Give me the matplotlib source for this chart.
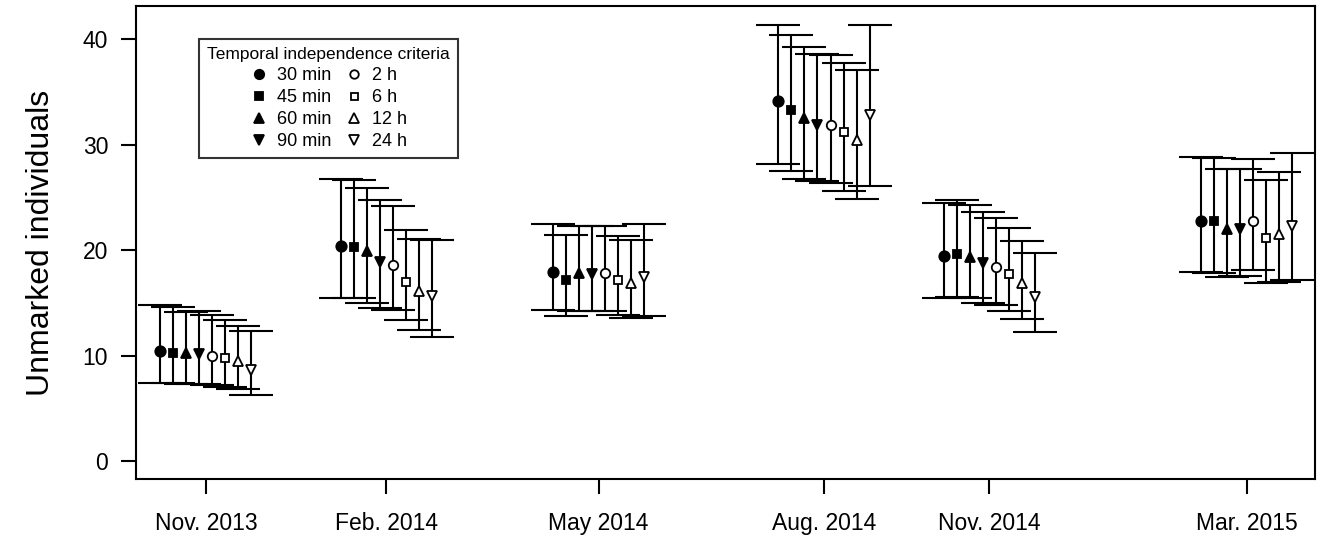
import numpy as np
import pandas as pd
import matplotlib
matplotlib.use("Agg")
import matplotlib.pyplot as plt
from matplotlib.lines import Line2D

plt.rcParams['font.family'] = ['Liberation Sans', 'DejaVu Sans']

# Sampling sessions and independence criteria
sessions = ["Nov. 2013", "Feb. 2014", "May 2014", "Aug. 2014", "Nov. 2014", "Mar. 2015"]
session_dates = ["2013-11-15", "2014-02-07", "2014-05-17", "2014-08-30", "2014-11-15", "2015-03-15"]
criteria = ["30 min", "45 min", "60 min", "90 min", "2 h", "6 h", "12 h", "24 h"]

# Estimated unmarked individuals (rows = sessions, columns = criteria)
estimates = [
    [10.5, 10.3, 10.3, 10.2, 10.0, 9.8, 9.5, 8.7],
    [20.4, 20.35, 19.9, 18.9, 18.6, 17.0, 16.2, 15.7],
    [18.0, 17.2, 17.9, 17.8, 17.9, 17.2, 16.9, 17.5],
    [34.2, 33.3, 32.5, 31.9, 31.9, 31.2, 30.5, 32.8],
    [19.5, 19.7, 19.35, 18.8, 18.45, 17.75, 16.9, 15.55],
    [22.8, 22.8, 22.0, 22.0, 22.8, 21.2, 21.6, 22.3],
]
lower = [
    [7.44, 7.4, 7.3, 7.35, 7.2, 7.1, 6.9, 6.3],
    [15.5, 15.45, 15.0, 14.5, 14.35, 13.4, 12.5, 11.75],
    [14.4, 13.8, 14.3, 14.3, 14.3, 13.9, 13.55, 13.8],
    [28.2, 27.5, 26.8, 26.6, 26.4, 25.6, 24.85, 26.15],
    [15.45, 15.6, 15.45, 15.0, 14.8, 14.3, 13.5, 12.3],
    [18.0, 17.9, 17.45, 17.55, 18.1, 16.9, 17.0, 17.2],
]
upper = [
    [14.8, 14.6, 14.2, 14.3, 13.9, 13.4, 12.85, 12.35],
    [26.8, 26.7, 25.9, 24.8, 24.2, 21.9, 21.05, 21.0],
    [22.5, 21.5, 22.3, 22.3, 22.3, 21.4, 21.0, 22.5],
    [41.4, 40.4, 39.3, 38.6, 38.5, 37.8, 37.1, 41.4],
    [24.5, 24.8, 24.3, 23.6, 23.1, 22.1, 20.9, 19.8],
    [28.85, 28.75, 27.7, 27.7, 28.7, 26.7, 27.4, 29.2],
]

# marker style per criterion: (marker, size, filled)
styles = [("o", 7.5, True), ("s", 6.0, True), ("^", 7.8, True), ("v", 7.8, True),
          ("o", 6.8, False), ("s", 5.6, False), ("^", 7.8, False), ("v", 7.8, False)]

est = np.array(estimates)
lo = np.array(lower)
hi = np.array(upper)
dates = pd.to_datetime(pd.Series(session_dates))
days = (dates - dates.iloc[0]).dt.days.values.astype(float)
dodge = 6.06

fig = plt.figure(figsize=(13.22, 5.44), dpi=100)
ax = fig.add_axes([136 / 1322, 65 / 544, 1179 / 1322, 473 / 544])

handles = []
for k, crit in enumerate(criteria):
    x = days + (k - 3.5) * dodge
    y = est[:, k]
    m, ms, filled = styles[k]
    ax.errorbar(x, y, yerr=[y - lo[:, k], hi[:, k] - y], fmt='none', ecolor='black',
                elinewidth=1.5, capsize=15.8, capthick=1.5, zorder=2)
    fc = 'black' if filled else 'white'
    ax.plot(x, y, linestyle='none', marker=m, markersize=ms, markerfacecolor=fc,
            markeredgecolor='black', markeredgewidth=1.3, zorder=3)
    handles.append(Line2D([], [], linestyle='none', marker=m, markersize=ms * 0.9,
                          markerfacecolor=fc, markeredgecolor='black',
                          markeredgewidth=1.3, label=crit))

ax.set_xlim(-32.6, 516.8)
ax.set_ylim(-1.66, 43.16)
ax.set_xticks(days)
ax.set_xticklabels(sessions)
ax.set_yticks([0, 10, 20, 30, 40])

for s in ax.spines.values():
    s.set_linewidth(1.5)
ax.tick_params(axis='both', direction='out', length=11, width=1.5, labelsize=16.5)
ax.tick_params(axis='x', pad=13)
ax.tick_params(axis='y', pad=9)

ax.set_ylabel("Unmarked individuals", fontsize=23)
ax.yaxis.set_label_coords(-0.068, 0.5)

leg = ax.legend(handles=handles, ncol=2, title="Temporal independence criteria",
                loc='upper left', bbox_to_anchor=((199 - 136) / 1179, (479 - 39) / 473),
                borderaxespad=0, fontsize=13, title_fontsize=12.5, frameon=True,
                fancybox=False, handlelength=1.0, handletextpad=0.5,
                columnspacing=0.8, labelspacing=0.28, borderpad=0.45)
leg.get_frame().set_edgecolor('black')
leg.get_frame().set_linewidth(1.5)

fig.savefig("out.png", dpi=100)
